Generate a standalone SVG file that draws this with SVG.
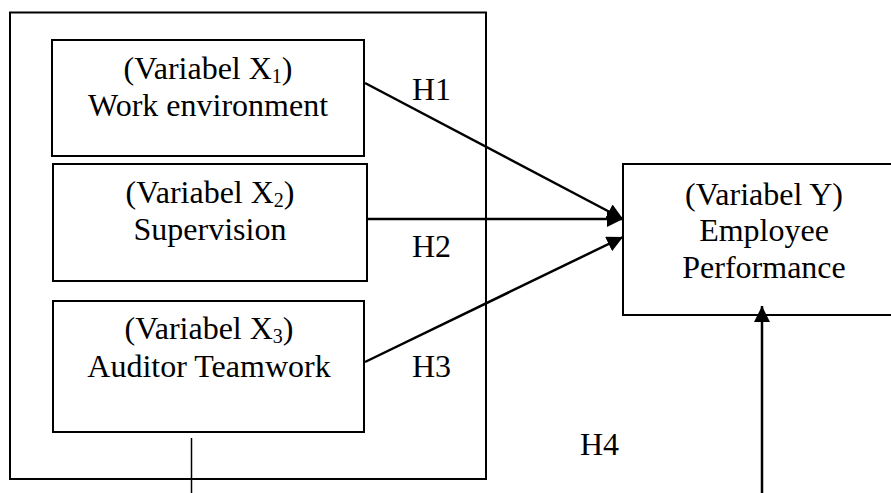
<svg xmlns="http://www.w3.org/2000/svg" width="891" height="493" viewBox="0 0 891 493">
<style>
.box{fill:none;stroke:#000;stroke-width:2}
.t{font-family:"Liberation Serif","Times New Roman",serif;font-size:32px;fill:#000;text-anchor:middle}
.lbl{font-family:"Liberation Serif","Times New Roman",serif;font-size:32px;fill:#000}
.sub{font-size:20px}
.con{fill:none;stroke:#000;stroke-width:2.5}
</style>
<defs>
<marker id="ah" markerUnits="userSpaceOnUse" markerWidth="16" markerHeight="16" viewBox="0 0 16 16" refX="16" refY="8" orient="auto">
<path d="M0,0 L16,8 L0,16 Z" fill="#000"/>
</marker>
</defs>
<rect width="891" height="493" fill="#fff"/>
<g id="outer"><rect class="box" x="10" y="12.5" width="476" height="466.5"/></g>
<g id="x1">
<rect class="box" x="52" y="40" width="312" height="116"/>
<text class="t" x="208" y="79">(Variabel X<tspan class="sub" dy="4">1</tspan><tspan dy="-4">)</tspan></text>
<text class="t" x="208" y="116">Work environment</text>
</g>
<g id="x2">
<rect class="box" x="53" y="164" width="314" height="117"/>
<text class="t" x="210" y="203">(Variabel X<tspan class="sub" dy="4">2</tspan><tspan dy="-4">)</tspan></text>
<text class="t" x="210" y="240">Supervision</text>
</g>
<g id="x3">
<rect class="box" x="53" y="301" width="311" height="131"/>
<text class="t" x="209" y="339">(Variabel X<tspan class="sub" dy="4">3</tspan><tspan dy="-4">)</tspan></text>
<text class="t" x="209" y="377">Auditor Teamwork</text>
</g>
<g id="y">
<path class="box" d="M895,164 H623 V315 H895"/>
<text class="t" x="764" y="205">(Variabel Y)</text>
<text class="t" x="764" y="241">Employee</text>
<text class="t" x="764" y="278">Performance</text>
</g>
<g id="connectors">
<line class="con" x1="365" y1="83" x2="623" y2="219" marker-end="url(#ah)"/>
<line class="con" x1="367" y1="219" x2="623" y2="219" marker-end="url(#ah)"/>
<line class="con" x1="365" y1="362" x2="623" y2="237" marker-end="url(#ah)"/>
<line class="con" x1="762" y1="493" x2="762" y2="306" marker-end="url(#ah)"/>
<line x1="191.5" y1="438" x2="191.5" y2="493" stroke="#000" stroke-width="1.5"/>
</g>
<g id="labels">
<text class="lbl" x="412" y="100">H1</text>
<text class="lbl" x="412" y="257">H2</text>
<text class="lbl" x="412" y="377">H3</text>
<text class="lbl" x="580" y="455">H4</text>
</g>
</svg>
